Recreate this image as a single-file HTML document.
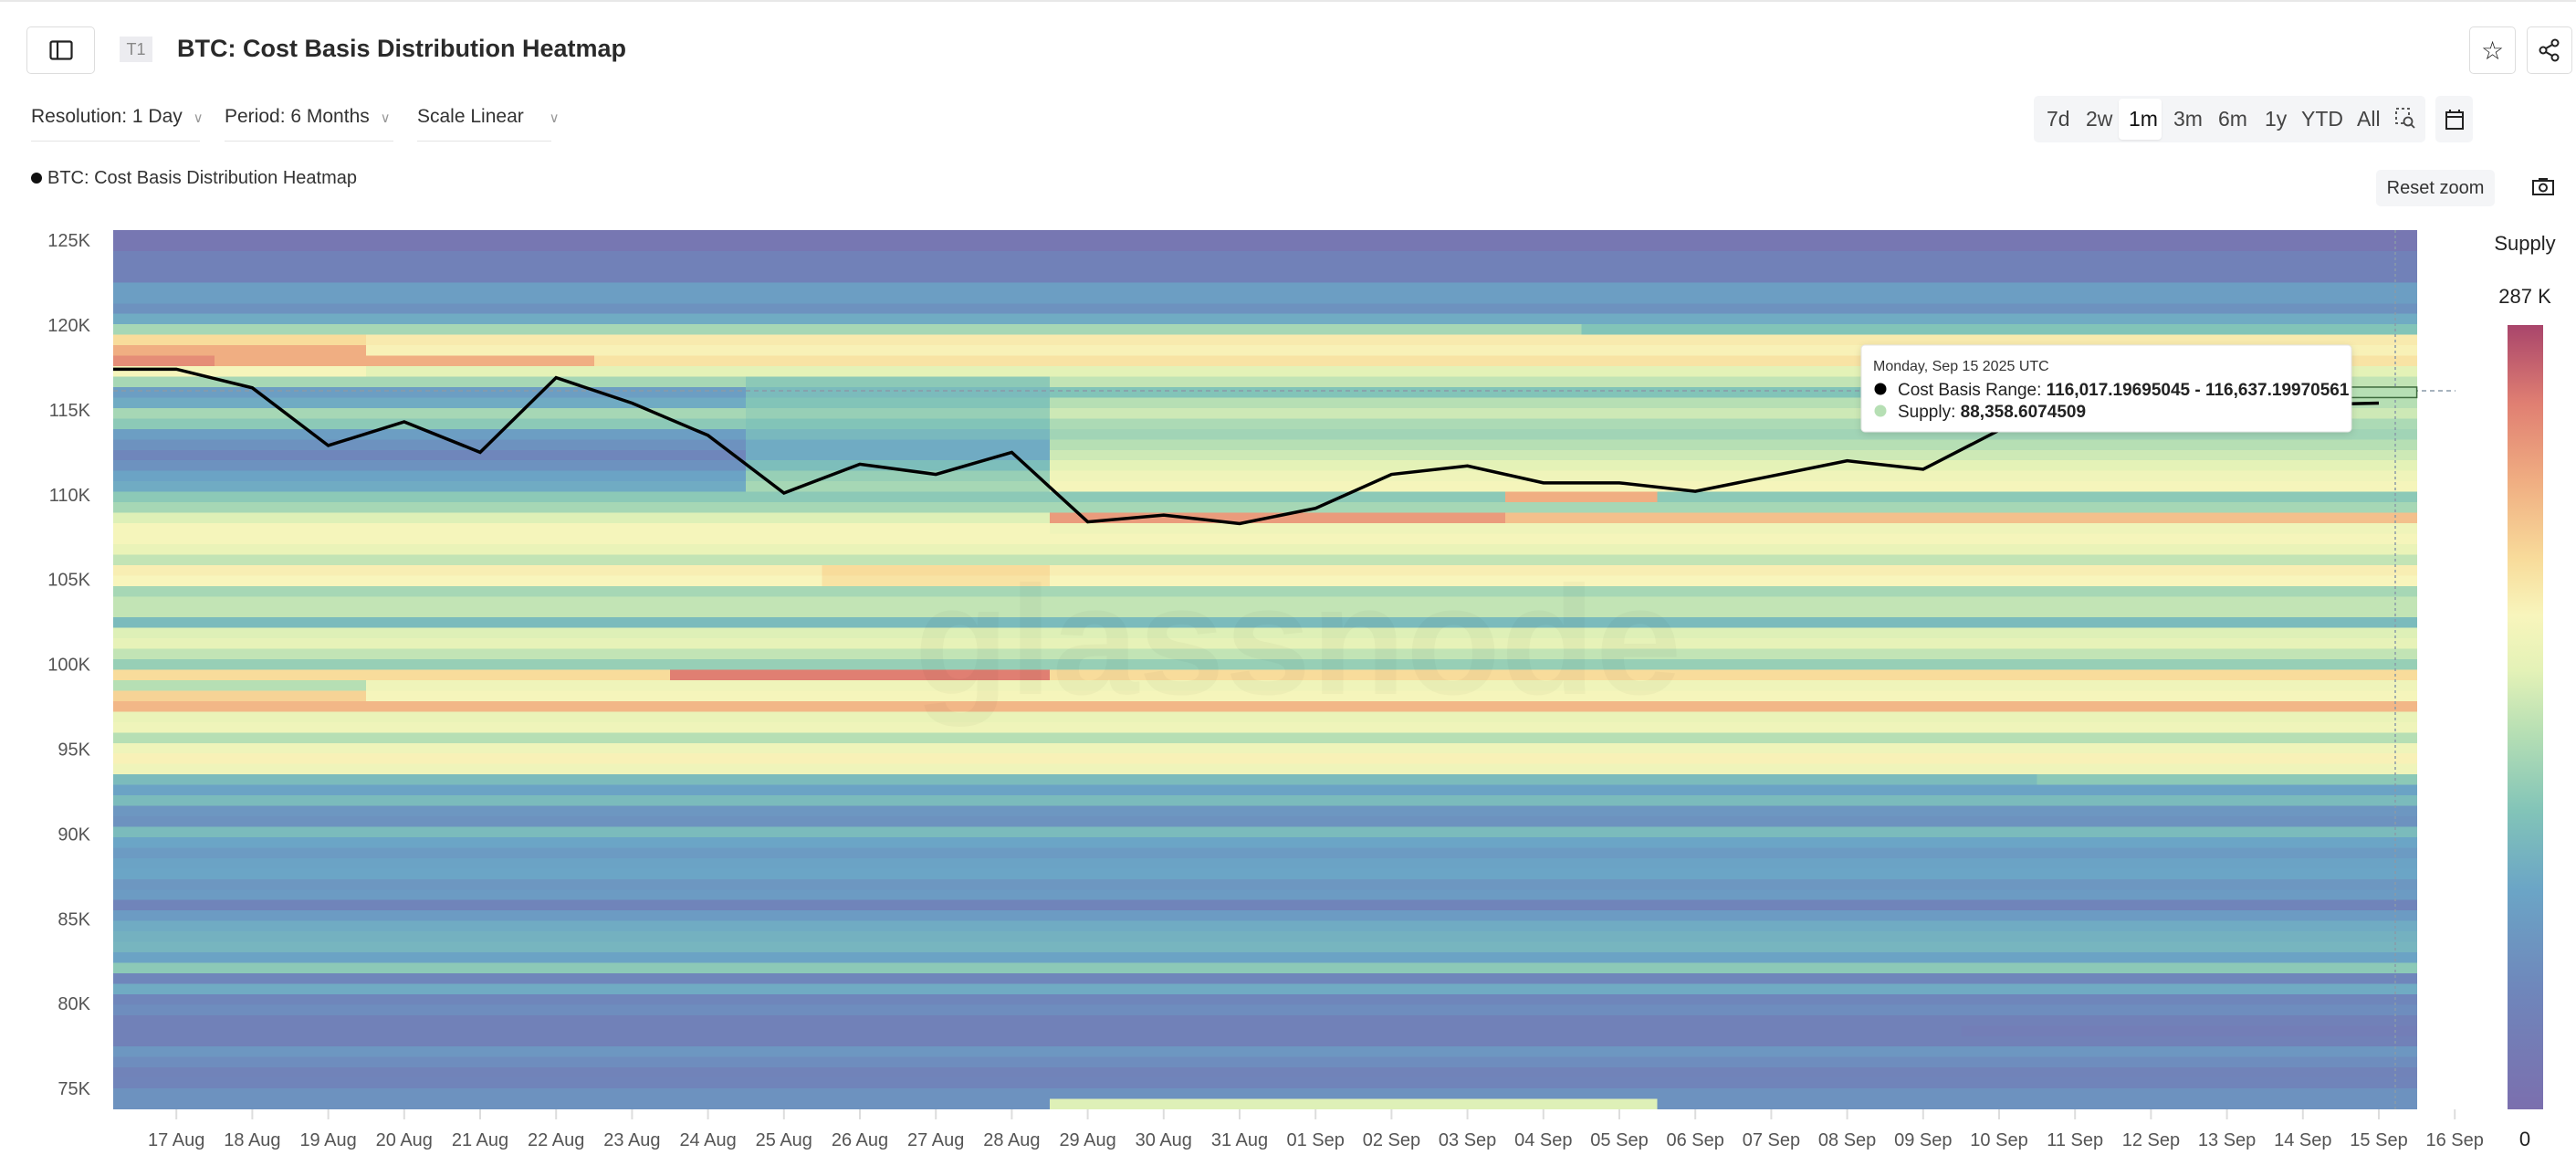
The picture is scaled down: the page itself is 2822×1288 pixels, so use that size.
<!DOCTYPE html>
<html><head><meta charset="utf-8"><style>
html,body{margin:0;padding:0;background:#fff;width:2822px;height:1288px;overflow:hidden;font-family:"Liberation Sans",sans-serif;color:#222}
.abs{position:absolute}
.btn{position:absolute;border:1.5px solid #ddd;border-radius:5px;background:#fff;box-sizing:border-box;display:flex;align-items:center;justify-content:center}
.dd{position:absolute;top:116px;font-size:21px;color:#333;border-bottom:1.5px solid #e4e4e4;padding-bottom:10px;height:28px;white-space:nowrap}
.rng{position:absolute;top:117px;font-size:23px;color:#444}
</style></head><body>
<div class="abs" style="left:0;top:0;width:2822px;height:2px;background:#e8e8e8"></div>
<div class="btn" style="left:29px;top:29px;width:75px;height:52px">
<svg width="26" height="22" viewBox="0 0 26 22"><rect x="1.5" y="1.5" width="23" height="19" rx="2" fill="none" stroke="#222" stroke-width="2.2"/><line x1="9" y1="2" x2="9" y2="20" stroke="#222" stroke-width="2.2"/></svg></div>
<div class="abs" style="left:131px;top:40px;width:36px;height:28px;background:#ececf0;color:#888;font-size:18px;text-align:center;line-height:28px">T1</div>
<div class="abs" style="left:194px;top:38px;font-size:27px;font-weight:600;color:#2a2a2a">BTC: Cost Basis Distribution Heatmap</div>
<div class="btn" style="left:2705px;top:29px;width:51px;height:52px;font-size:28px">☆</div>
<div class="btn" style="left:2768px;top:29px;width:50px;height:52px">
<svg width="26" height="26" viewBox="0 0 26 26"><circle cx="19" cy="5" r="3.5" fill="none" stroke="#222" stroke-width="2"/><circle cx="6" cy="13" r="3.5" fill="none" stroke="#222" stroke-width="2"/><circle cx="19" cy="21" r="3.5" fill="none" stroke="#222" stroke-width="2"/><line x1="9" y1="11" x2="16" y2="7" stroke="#222" stroke-width="2"/><line x1="9" y1="15" x2="16" y2="19" stroke="#222" stroke-width="2"/></svg></div>
<div class="dd" style="left:34px;width:185px">Resolution: 1 Day <span style="color:#999;font-size:15px;margin-left:6px">∨</span></div>
<div class="dd" style="left:246px;width:185px">Period: 6 Months <span style="color:#999;font-size:15px;margin-left:6px">∨</span></div>
<div class="dd" style="left:457px;width:147px">Scale Linear <span style="color:#999;font-size:15px;margin-left:22px">∨</span></div>
<div class="abs" style="left:2228px;top:105px;width:429px;height:51px;background:#f4f5f7;border-radius:5px"></div>
<div class="abs" style="left:2321px;top:108px;width:47px;height:45px;background:#fff;border-radius:4px;box-shadow:0 1px 2px rgba(0,0,0,.08)"></div>
<div class="rng" style="left:2242px">7d</div>
<div class="rng" style="left:2285px">2w</div>
<div class="rng" style="left:2332px;color:#111">1m</div>
<div class="rng" style="left:2381px">3m</div>
<div class="rng" style="left:2430px">6m</div>
<div class="rng" style="left:2481px">1y</div>
<div class="rng" style="left:2521px">YTD</div>
<div class="rng" style="left:2582px">All</div>
<div class="abs" style="left:2624px;top:118px">
<svg width="22" height="24" viewBox="0 0 22 24"><rect x="1" y="1" width="14" height="16" fill="none" stroke="#444" stroke-width="1.8" stroke-dasharray="3,3"/><circle cx="14" cy="15" r="4.5" fill="#f4f5f7" stroke="#444" stroke-width="1.8"/><line x1="17" y1="18" x2="21" y2="22" stroke="#444" stroke-width="1.8"/></svg></div>
<div class="abs" style="left:2668px;top:105px;width:41px;height:51px;background:#f4f5f7;border-radius:5px;display:flex;align-items:center;justify-content:center">
<svg width="22" height="24" viewBox="0 0 22 24"><rect x="2" y="4" width="18" height="18" fill="none" stroke="#222" stroke-width="2"/><line x1="2" y1="9" x2="20" y2="9" stroke="#222" stroke-width="2"/><line x1="6" y1="1" x2="6" y2="5" stroke="#222" stroke-width="2"/><line x1="16" y1="1" x2="16" y2="5" stroke="#222" stroke-width="2"/></svg></div>
<div class="abs" style="left:34px;top:184px;font-size:20px;color:#333"><span style="display:inline-block;width:12px;height:12px;border-radius:6px;background:#111;margin-right:6px"></span>BTC: Cost Basis Distribution Heatmap</div>
<div class="abs" style="left:2603px;top:186px;width:130px;height:40px;background:#f4f5f7;border-radius:5px;font-size:20px;color:#333;text-align:center;line-height:40px">Reset zoom</div>
<div class="abs" style="left:2773px;top:193px">
<svg width="26" height="22" viewBox="0 0 26 22"><rect x="2" y="5" width="22" height="15" fill="none" stroke="#222" stroke-width="2"/><circle cx="13" cy="12.5" r="4" fill="none" stroke="#222" stroke-width="2"/><rect x="8" y="2" width="10" height="3" fill="#222"/></svg></div>

<svg id="chart" class="abs" style="left:0;top:0" width="2822" height="1288">
<defs>
<clipPath id="plotclip"><rect x="124" y="252" width="2524" height="963"/></clipPath>
<linearGradient id="cbar" x1="0" y1="1" x2="0" y2="0">
<stop offset="0" stop-color="#7b6fae"/><stop offset="0.15" stop-color="#6f86bb"/><stop offset="0.28" stop-color="#6ba5c6"/><stop offset="0.38" stop-color="#82c4b8"/><stop offset="0.48" stop-color="#b6dfb4"/><stop offset="0.56" stop-color="#e4f2b7"/><stop offset="0.63" stop-color="#f8f5bc"/><stop offset="0.7" stop-color="#f8dc9b"/><stop offset="0.8" stop-color="#f0ae82"/><stop offset="0.9" stop-color="#e07f72"/><stop offset="1" stop-color="#a9456b"/>
</linearGradient>
</defs>
<g id="cells" clip-path="url(#plotclip)" shape-rendering="crispEdges"></g>
<text x="1422" y="760" font-size="170" font-family="Liberation Sans, sans-serif" font-weight="bold" fill="#000" opacity="0.025" text-anchor="middle">glassnode</text>
<g id="yaxis"></g><g id="xaxis"></g>
<line x1="124" y1="428" x2="2690" y2="428" stroke="#8a9aa8" stroke-width="1.5" stroke-dasharray="5,4"/>
<line x1="2624" y1="252" x2="2624" y2="1215" stroke="#8a9aa8" stroke-width="1.5" stroke-dasharray="3,3"/>
<g id="line" clip-path="url(#plotclip)"></g>
<rect id="hlcell" fill="#b6dfb4" stroke="#3d6b3d" stroke-width="1.5"/>
<rect x="2747" y="356" width="39" height="859" fill="url(#cbar)"/>
<text x="2766" y="274" font-size="22" text-anchor="middle" fill="#222">Supply</text>
<text x="2766" y="332" font-size="22" text-anchor="middle" fill="#222">287 K</text>
<text x="2766" y="1255" font-size="22" text-anchor="middle" fill="#222">0</text>
<g>
<rect x="2039" y="378" width="537" height="95" rx="4" fill="#fff" stroke="#e6e6e6" style="filter:drop-shadow(0 2px 4px rgba(0,0,0,.12))"/>
<text x="2052" y="406" font-size="16" fill="#333">Monday, Sep 15 2025 UTC</text>
<circle cx="2060" cy="426" r="6.5" fill="#000"/>
<text x="2079" y="433" font-size="19" fill="#222">Cost Basis Range: <tspan font-weight="bold">116,017.19695045 - 116,637.19970561</tspan></text>
<circle cx="2060" cy="450" r="6.5" fill="#b6dfb4"/>
<text x="2079" y="457" font-size="19" fill="#222">Supply: <tspan font-weight="bold">88,358.6074509</tspan></text>
</g>
</svg>
<script>
// ---- data ----
const dayLabels = ["16 Aug","17 Aug","18 Aug","19 Aug","20 Aug","21 Aug","22 Aug","23 Aug","24 Aug","25 Aug","26 Aug","27 Aug","28 Aug","29 Aug","30 Aug","31 Aug","01 Sep","02 Sep","03 Sep","04 Sep","05 Sep","06 Sep","07 Sep","08 Sep","09 Sep","10 Sep","11 Sep","12 Sep","13 Sep","14 Sep","15 Sep","16 Sep"];
const priceTicks = [75,80,85,90,95,100,105,110,115,120,125];
const closePrices = [117.4,117.4,116.3,112.9,114.3,112.5,116.9,115.4,113.5,110.1,111.8,111.2,112.5,108.4,108.8,108.3,109.2,111.2,111.7,110.7,110.7,110.2,111.1,112.0,111.5,113.8,115.5,116.0,115.9,115.3,115.4];
// normalized supply per price bin (top bin first), base profile
const rowSupply = [.05,.05,.12,.12,.12,.25,.25,.2,.3,.45,.7,.8,.87,.62,.45,.25,.3,.45,.4,.25,.2,.15,.2,.27,.3,.4,.45,.55,.62,.62,.58,.5,.65,.63,.45,.5,.5,.35,.55,.57,.5,.42,.7,.48,.72,.78,.58,.6,.48,.6,.64,.6,.35,.27,.35,.22,.2,.35,.28,.24,.27,.28,.22,.24,.14,.24,.3,.32,.33,.27,.4,.15,.3,.15,.18,.12,.12,.12,.22,.18,.13,.14,.2,.2];
// overrides: [row, fromDay, toDay, value]
const overrides = [[42,8,12,.9],[43,4,30,.6],[44,4,30,.62],[27,13,18,.84],[27,19,30,.76],[28,13,30,.6],[25,19,20,.8],
[14,9,12,.4],[15,9,12,.35],[16,9,12,.38],[17,9,12,.42],[18,9,12,.38],[19,9,12,.34],[20,9,12,.3],[21,9,12,.3],[22,9,12,.36],[23,9,12,.42],[24,9,12,.45],
[14,13,30,.5],[15,13,30,.38],[16,13,30,.48],[17,13,30,.52],[18,13,30,.46],[19,13,30,.44],[20,13,30,.48],[21,13,30,.52],[22,13,30,.56],[23,13,30,.6],[24,13,30,.62],
[10,4,30,.66],[11,4,30,.64],[12,2,6,.8],[12,7,30,.68],[13,4,30,.56],[9,20,30,.38],[32,10,12,.7],[33,10,12,.68],[83,13,20,.55],[76,25,30,.1],[52,26,30,.4]];
const hoverRow = 15, hoverDay = 30;
// ---- scales ----
const priceTop = 125.6, priceBottom = 73.77, plotTop = 252, plotBottom = 1215, plotLeft = 124, plotRight = 2648;
const day0X = 110, dayW = 83.2;
const y = p => plotTop + (priceTop - p) / (priceTop - priceBottom) * (plotBottom - plotTop);
const x = d => day0X + d * dayW;
const stops = [[0,[123,111,174]],[.15,[111,134,187]],[.28,[107,165,198]],[.38,[130,196,184]],[.48,[182,223,180]],[.56,[228,242,183]],[.63,[248,245,188]],[.7,[248,220,155]],[.8,[240,174,130]],[.9,[224,127,114]],[1,[169,69,107]]];
function color(v){v=Math.max(0,Math.min(1,v));for(let i=1;i<stops.length;i++){if(v<=stops[i][0]){const a=stops[i-1],b=stops[i],t=(v-a[0])/(b[0]-a[0]);return 'rgb('+a[1].map((c,k)=>Math.round(c+(b[1][k]-c)*t)).join(',')+')';}}return 'rgb(169,69,107)';}
const NS='http://www.w3.org/2000/svg';
const nRows = rowSupply.length, nDays = closePrices.length, bin = (priceTop - priceBottom) / nRows;
const grid = [];
for (let r=0;r<nRows;r++){grid.push([]);for(let d=0;d<nDays;d++)grid[r].push(rowSupply[r]);}
overrides.forEach(o=>{for(let d=o[1];d<=o[2];d++)grid[o[0]][d]=o[3];});
const cells=document.getElementById('cells');
for(let r=0;r<nRows;r++){for(let d=0;d<nDays;d++){
 const el=document.createElementNS(NS,'rect');
 const pt=priceTop-r*bin, pb=pt-bin;
 el.setAttribute('x',x(d)-dayW/2);el.setAttribute('width',dayW+0.5);
 el.setAttribute('y',y(pt));el.setAttribute('height',y(pb)-y(pt)+0.5);
 el.setAttribute('fill',color(grid[r][d]));
 
 
 cells.appendChild(el);}}
const hl=document.getElementById('hlcell');
hl.setAttribute('x',x(hoverDay)-dayW/2);hl.setAttribute('width',dayW);
hl.setAttribute('y',y(priceTop-hoverRow*bin));hl.setAttribute('height',y(priceTop-(hoverRow+1)*bin)-y(priceTop-hoverRow*bin));
const ya=document.getElementById('yaxis');
priceTicks.forEach(t=>{const el=document.createElementNS(NS,'text');el.setAttribute('x',99);el.setAttribute('y',y(t)+7);el.setAttribute('text-anchor','end');el.setAttribute('font-size','20');el.setAttribute('fill','#555');el.textContent=t+'K';
 
 
 ya.appendChild(el);});
const xa=document.getElementById('xaxis');
dayLabels.forEach((l,i)=>{if(i===0)return;const tk=document.createElementNS(NS,'line');tk.setAttribute('x1',x(i));tk.setAttribute('x2',x(i));tk.setAttribute('y1',1215);tk.setAttribute('y2',1226);tk.setAttribute('stroke','#ddd');tk.setAttribute('stroke-width','2');
 
 
 xa.appendChild(tk);
 const el=document.createElementNS(NS,'text');el.setAttribute('x',x(i));el.setAttribute('y',1255);el.setAttribute('text-anchor','middle');el.setAttribute('font-size','20');el.setAttribute('fill','#555');el.textContent=l;
 
 
 xa.appendChild(el);});
const pl=document.createElementNS(NS,'polyline');
pl.setAttribute('points',closePrices.map((p,i)=>x(i)+','+y(p)).join(' '));
pl.setAttribute('fill','none');pl.setAttribute('stroke','#000');pl.setAttribute('stroke-width','3.5');pl.setAttribute('stroke-linejoin','miter');


document.getElementById('line').appendChild(pl);
</script>
</body></html>
